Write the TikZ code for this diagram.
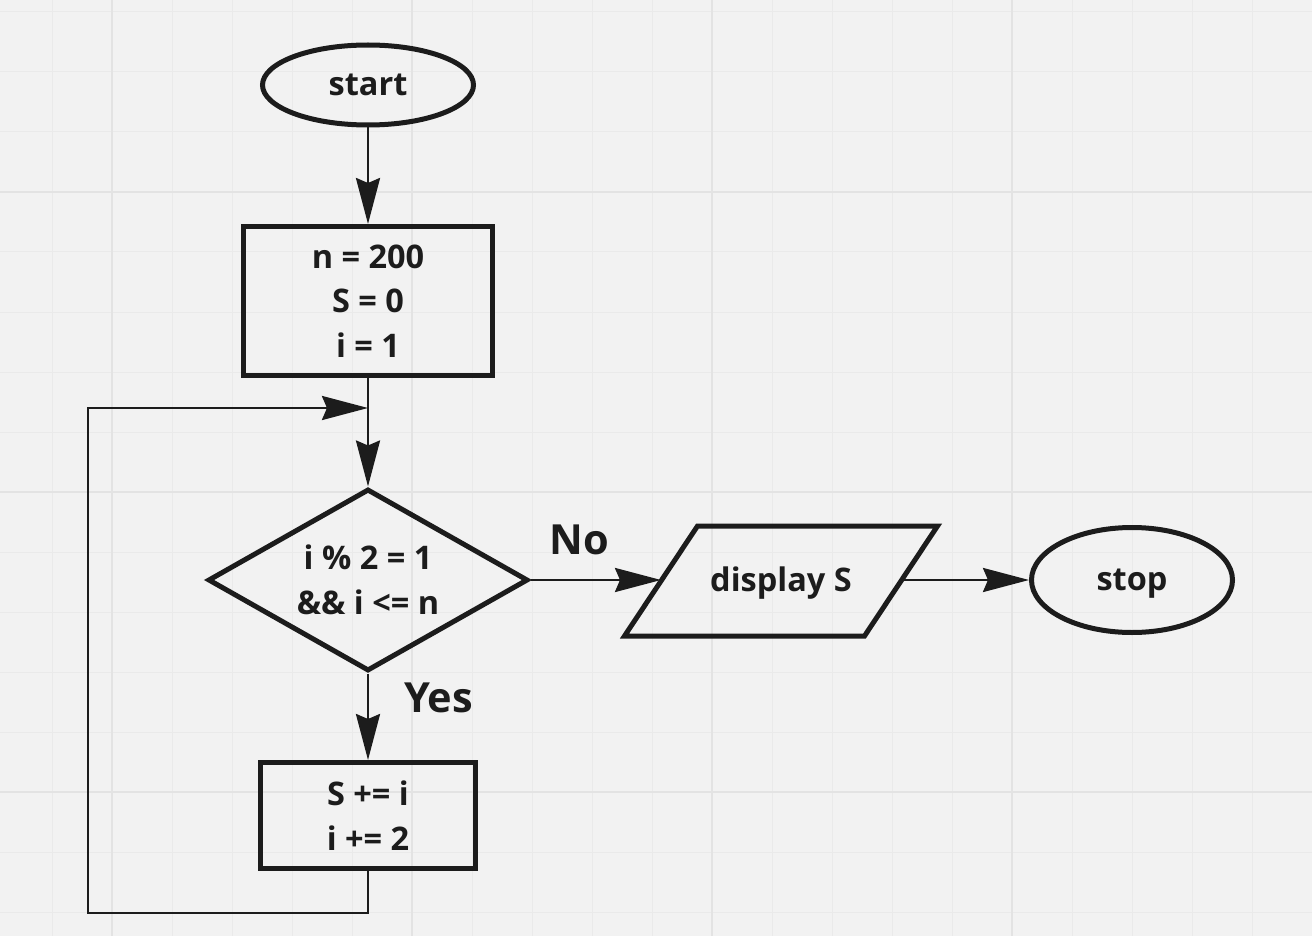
\documentclass[tikz,border=0pt]{standalone}
\usepackage{fontspec}
\setmainfont{Open Sans}
\usetikzlibrary{shapes.geometric,arrows.meta}
\definecolor{bg}{HTML}{F2F2F2}
\definecolor{gridminor}{HTML}{EAEAEA}
\definecolor{gridmajor}{HTML}{E3E3E3}
\definecolor{ink}{HTML}{1C1C1C}
\begin{document}
\begin{tikzpicture}[x=1pt,y=-1pt,
  every node/.style={font=\fontsize{32.5}{44.5}\selectfont\bfseries, text=ink},
  shp/.style={draw=ink, line width=5pt, inner sep=0pt, align=center, line join=miter},
  oneline/.style={text height=21pt, text depth=0pt},
  conn/.style={draw=ink, line width=2.8pt},
  arr/.style={conn, -{Stealth[length=46pt,width=24pt,inset=5pt]}},
  lbl/.style={font=\fontsize{41.5}{48}\selectfont\bfseries, anchor=base, inner sep=0pt}
]
\useasboundingbox (0,0) rectangle (1312,936);
\fill[bg] (0,0) rectangle (1312,936);
\foreach \x in {52,112,...,1312} \draw[gridminor, line width=1pt] (\x,0) -- (\x,936);
\foreach \y in {12,72,...,912} \draw[gridminor, line width=1pt] (0,\y) -- (1312,\y);
\foreach \x in {112,412,712,1012} \draw[gridmajor, line width=1.3pt] (\x,0) -- (\x,936);
\foreach \y in {192,492,792} \draw[gridmajor, line width=1.3pt] (0,\y) -- (1312,\y);

\node[shp, oneline, ellipse, minimum width=211pt, minimum height=80pt] (start) at (368,85) {start};
\node[shp, rectangle, minimum width=249pt, minimum height=149pt] (init) at (368,301) {n = 200\\S = 0\\i = 1};
\node[shp, diamond, minimum width=320pt, minimum height=182pt, shape aspect=1.76] (cond) at (368,580) {i \% 2 = 1\\\&\& i <= n};
\node[shp, rectangle, minimum width=215pt, minimum height=106pt] (body) at (368,815.5) {S += i\\i += 2};
\node[shp, oneline, draw=none, rectangle, minimum width=235pt, minimum height=105pt] (disp) at (781,581) {display S};
\draw[shp] ([xshift=-36.5pt]disp.south west) -- ([xshift=-36.5pt]disp.south east)
  -- ([xshift=36.5pt]disp.north east) -- ([xshift=36.5pt]disp.north west) -- cycle;
\node[shp, oneline, ellipse, minimum width=201pt, minimum height=105pt] (stop) at (1132,580) {stop};

\node[lbl] (lno) at (579.5,554) {No};
\node[lbl] (lyes) at (438.5,712) {Yes};

\coordinate (join) at (368,408);
\coordinate (lb) at (88,913);

\draw[arr] (start) -- (init);
\draw[arr] (init) -- (cond);
\draw[arr] (body.south) |- (lb) |- (join);
\draw[arr] (cond) -- (body);
\draw[arr] (cond.east) -- (disp.west |- cond.east);
\draw[arr] (disp.east |- stop.west) -- (stop.west);
\end{tikzpicture}
\end{document}
